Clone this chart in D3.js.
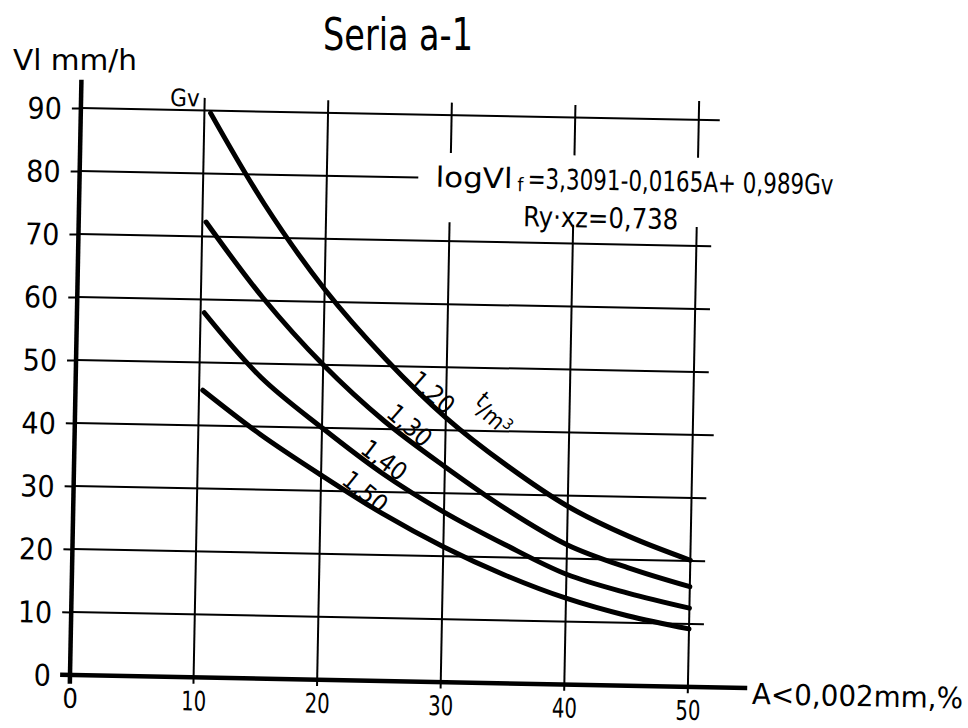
<!DOCTYPE html>
<html>
<head>
<meta charset="utf-8">
<script src="https://cdn.jsdelivr.net/npm/d3@7"></script>
<style>
  html, body { margin: 0; background: #fff; }
  text { font-family: "DejaVu Sans Condensed", "DejaVu Sans", sans-serif; fill: #000; }
</style>
</head>
<body>
<svg id="chart" width="968" height="728"></svg>
<script>
// Tick values on both axes
const xTicks = [0, 10, 20, 30, 40, 50];
const yTicks = [0, 10, 20, 30, 40, 50, 60, 70, 80, 90];

// Bulk density (t/m³) of each curve
const densities = ["1,20", "1,30", "1,40", "1,50"];

// Infiltration rate Vl (mm/h) against clay fraction A (< 0,002 mm, %)
const curve120 = [[10.5, 89.6], [15, 75.3], [20, 62.0], [25, 51.2], [30, 42.0], [35, 34.6], [40, 28.3], [45, 23.7], [50, 20.1]];
const curve130 = [[10.3, 72.3], [15, 60.5], [20, 50.0], [25, 41.3], [30, 34.2], [35, 27.7], [40, 22.2], [45, 18.7], [50, 15.9]];
const curve140 = [[10.3, 57.9], [15, 47.8], [20, 40.0], [25, 32.9], [30, 27.0], [35, 22.0], [40, 17.5], [45, 14.7], [50, 12.5]];
const curve150 = [[10.3, 45.6], [15, 38.8], [20, 32.5], [25, 26.6], [30, 21.5], [35, 17.2], [40, 13.7], [45, 11.1], [50, 9.2]];
const curves = [curve120, curve130, curve140, curve150];

const svg = d3.select("#chart");

const x = d3.scaleLinear().domain([0, 50]).range([70, 688]);
const y = d3.scaleLinear().domain([0, 90]).range([675, 108]);

// The whole plate sits slightly askew on the page
const g = svg.append("g").attr("transform", "rotate(1.1,70,675)");

// Horizontal grid lines (the 80 line stops short of the regression formula)
g.append("g").selectAll("line")
  .data(yTicks.filter(v => v > 0))
  .join("line")
  .attr("x1", x(0)).attr("x2", v => x(v === 80 ? 27.4 : v === 90 || v === 40 ? 51.7 : 51.2))
  .attr("y1", v => y(v)).attr("y2", v => y(v))
  .attr("stroke", "#000").attr("stroke-width", 2);

// Vertical grid lines; the right ones are interrupted by the formula text
const vSegs = [];
xTicks.filter(a => a > 0).forEach(a => {
  if (a >= 30) { vSegs.push([a, -1, 73]); vSegs.push([a, 84, a === 50 ? 93 : 92]); }
  else vSegs.push([a, -1, 92]);
});
g.append("g").selectAll("line")
  .data(vSegs)
  .join("line")
  .attr("x1", d => x(d[0])).attr("x2", d => x(d[0]))
  .attr("y1", d => y(d[1])).attr("y2", d => y(d[2]))
  .attr("stroke", "#000").attr("stroke-width", 2);

// Y axis with tick labels
const yAxis = g.append("g")
  .attr("transform", `translate(${x(0)},0)`)
  .call(d3.axisLeft(y).tickValues(yTicks).tickSize(9).tickPadding(10).tickFormat(d3.format("d")));
yAxis.select(".domain").remove();
yAxis.selectAll(".tick line").attr("stroke", "#000").attr("stroke-width", 2);
yAxis.selectAll(".tick text").attr("font-size", 30).attr("dy", "0.36em")
  .style("font-family", '"DejaVu Sans Condensed", sans-serif');

// X axis tick labels
const xAxis = g.append("g")
  .attr("transform", `translate(0,${y(0)})`)
  .call(d3.axisBottom(x).tickValues(xTicks).tickSize(0).tickFormat(d3.format("d")));
xAxis.select(".domain").remove();
xAxis.selectAll(".tick text")
  .attr("y", 33).attr("dy", 0).attr("font-size", 27)
  .style("font-family", '"DejaVu Sans Condensed", sans-serif')
  .each(function(d) { if (d >= 10) d3.select(this).attr("textLength", 25).attr("lengthAdjust", "spacingAndGlyphs"); });

// Heavy axis lines
g.append("line")
  .attr("x1", x(0)).attr("x2", x(0)).attr("y1", y(-1.4)).attr("y2", y(94.5))
  .attr("stroke", "#000").attr("stroke-width", 4.5);
g.append("line")
  .attr("x1", x(-0.8)).attr("x2", x(54.8)).attr("y1", y(0)).attr("y2", y(0))
  .attr("stroke", "#000").attr("stroke-width", 4.5);

// Density curves
const line = d3.line().x(d => x(d[0])).y(d => y(d[1])).curve(d3.curveCatmullRom.alpha(0.5));
g.append("g").selectAll("path")
  .data(curves)
  .join("path")
  .attr("d", line)
  .attr("fill", "none").attr("stroke", "#000").attr("stroke-width", 5)
  .attr("stroke-linecap", "round");

// Curve labels written along the curves
const labelPos = [[28.9, 46.0, 40], [27.1, 40.7, 40], [25.1, 35.1, 36], [23.6, 30.0, 38]];
g.append("g").selectAll("text")
  .data(densities)
  .join("text")
  .attr("transform", (d, i) => `translate(${x(labelPos[i][0])},${y(labelPos[i][1])}) rotate(${labelPos[i][2]})`)
  .attr("text-anchor", "middle").attr("dy", "0.36em")
  .attr("font-size", 25)
  .text(d => d);
const unit = g.append("text")
  .attr("transform", `translate(${x(33.3)},${y(41.4)}) rotate(40)`)
  .attr("text-anchor", "middle").attr("dy", "0.36em").attr("font-size", 23);
unit.append("tspan").attr("dy", "-0.3em").text("t");
unit.append("tspan").attr("dy", "0.3em").text("/m");
unit.append("tspan").attr("dy", "-0.5em").attr("font-size", 15).text("3");

// Parameter name at the start of the curves
g.append("text")
  .attr("x", x(9.6)).attr("y", y(90.6))
  .attr("text-anchor", "end").attr("font-size", 24)
  .text("Gv");

// Regression formula and correlation coefficient
g.append("text")
  .attr("x", x(28.8)).attr("y", y(78.6))
  .attr("font-size", 28).attr("textLength", 77).attr("lengthAdjust", "spacingAndGlyphs")
  .text("logVl");
g.append("text")
  .attr("x", x(28.8) + 82).attr("y", y(78.6) + 3)
  .attr("font-size", 19)
  .text("f");
g.append("text")
  .attr("x", x(28.8) + 92).attr("y", y(78.6))
  .attr("font-size", 28).attr("textLength", 306).attr("lengthAdjust", "spacingAndGlyphs")
  .text("=3,3091-0,0165A+ 0,989Gv");
g.append("text")
  .attr("x", x(35.95)).attr("y", y(72.6))
  .attr("font-size", 28).attr("textLength", 155).attr("lengthAdjust", "spacingAndGlyphs")
  .text("Ry·xz=0,738");

// X axis title at the end of the baseline
g.append("text")
  .attr("x", x(55.2)).attr("y", y(0) + 16)
  .attr("font-size", 29).attr("textLength", 211).attr("lengthAdjust", "spacingAndGlyphs")
  .text("A<0,002mm,%");

// Chart title and y axis unit
svg.append("text")
  .attr("x", 398).attr("y", 50)
  .attr("text-anchor", "middle").attr("font-size", 44)
  .attr("textLength", 150).attr("lengthAdjust", "spacingAndGlyphs")
  .text("Seria  a-1");
svg.append("text")
  .attr("x", 13).attr("y", 70)
  .attr("font-size", 29).attr("textLength", 124).attr("lengthAdjust", "spacingAndGlyphs")
  .text("Vl  mm/h");
</script>
</body>
</html>
